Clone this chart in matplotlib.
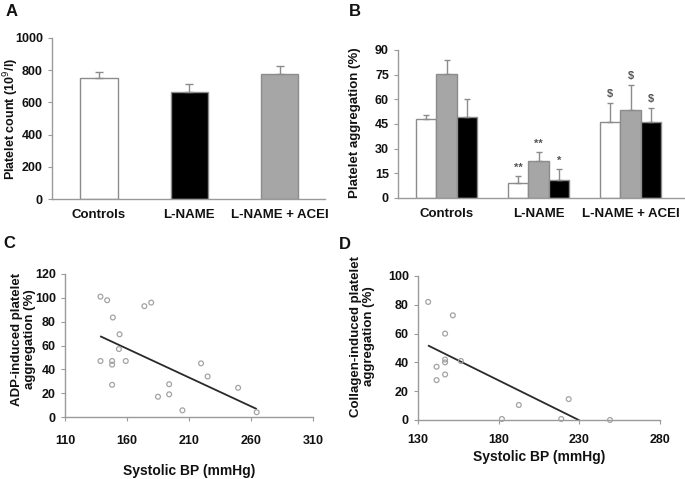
import numpy as np
import matplotlib.pyplot as plt

plt.rcParams['font.family'] = ['Liberation Sans', 'DejaVu Sans']

# Panel A: platelet count
groups = ["Controls", "L-NAME", "L-NAME + ACEI"]
count_mean = [751, 665, 776]
count_err = [38, 49, 50]

# Panel B: platelet aggregation (white, gray, black per group)
agg_white = [48, 9, 46]
agg_white_err = [2.5, 4.5, 12]
agg_gray = [75.5, 22.5, 53.5]
agg_gray_err = [8.5, 5.5, 15.5]
agg_black = [49, 11, 46]
agg_black_err = [11, 6.5, 9]
marks_white = ["", "**", "$"]
marks_gray = ["", "**", "$"]
marks_black = ["", "*", "$"]

# Panel C: ADP-induced aggregation vs systolic BP
c_bp = [138.6, 144, 148.6, 154, 153.5, 148, 148, 138.6, 159, 148, 174, 179.5,
        185, 194, 194, 204.7, 219.7, 225, 249.6, 264.6]
c_agg = [101, 98, 83.5, 69.4, 57, 47, 44, 47, 47, 27, 93, 96,
         17, 27.5, 19, 5.6, 45, 34, 24.5, 4]
c_fit_x = [139, 264]
c_fit_y = [67.5, 7]

# Panel D: collagen-induced aggregation vs systolic BP
d_bp = [136.3, 151.6, 146.8, 146.8, 146.8, 156.6, 141.5, 141.5, 146.8,
        192.5, 182, 218.8, 223.4, 249]
d_agg = [82, 72.7, 60, 42, 40, 41, 37, 27.7, 31.6, 10.4, 0.7, 0.7, 14.5, 0]
d_fit_x = [136.7, 229.6]
d_fit_y = [51.5, 0]

W, H = 685, 479
fig = plt.figure(figsize=(W / 100, H / 100), dpi=100)

AX_COL = '#9a9a9a'
TXT = '#111111'
EC = '#8c8c8c'


def px_axes(l, r, t, b):
    return fig.add_axes([l / W, 1 - b / H, (r - l) / W, (b - t) / H])


def style(ax):
    for s in ('top', 'right'):
        ax.spines[s].set_visible(False)
    for s in ('left', 'bottom'):
        ax.spines[s].set_color(AX_COL)
        ax.spines[s].set_linewidth(1.0)
    ax.tick_params(colors=AX_COL, labelcolor=TXT, labelsize=9, length=3,
                   width=0.8)
    for lbl in ax.get_xticklabels() + ax.get_yticklabels():
        lbl.set_fontweight('bold')


# ---- A ----
axA = px_axes(52, 325, 38, 199)
x = np.arange(3)
axA.bar(x, count_mean, width=0.41, color=['white', 'black', '#a6a6a6'],
        edgecolor=EC, linewidth=1.0, zorder=2)
axA.errorbar(x, count_mean, yerr=[np.zeros(3), count_err], fmt='none',
             ecolor=EC, elinewidth=1.0, capsize=3, capthick=1.0, zorder=3)
axA.set_xlim(-0.52, 2.5)
axA.set_ylim(0, 1000)
axA.set_yticks([0, 200, 400, 600, 800, 1000])
axA.set_xticks(x)
axA.set_xticklabels(groups)
style(axA)
axA.tick_params(axis='x', length=0, pad=7, labelsize=9.5)
axA.set_ylabel("Platelet count (10$^9$/l)", fontsize=9, fontweight='bold',
               color=TXT)
axA.yaxis.set_label_coords(-0.112, 0.5)

# ---- B ----
axB = px_axes(398, 684, 50, 198)
bw = 0.223
for vals, errs, col, off, marks in [
        (agg_white, agg_white_err, 'white', -bw, marks_white),
        (agg_gray, agg_gray_err, '#a6a6a6', 0, marks_gray),
        (agg_black, agg_black_err, 'black', bw, marks_black)]:
    axB.bar(x + off, vals, width=bw, color=col, edgecolor=EC, linewidth=1.0,
            zorder=2)
    axB.errorbar(x + off, vals, yerr=[np.zeros(3), errs], fmt='none',
                 ecolor=EC, elinewidth=1.0, capsize=2.5, capthick=1.0,
                 zorder=3)
    for xi, v, e, m in zip(x + off, vals, errs, marks):
        if m:
            axB.text(xi, v + e + 2, m, ha='center', va='bottom', fontsize=8,
                     fontweight='bold', color='#555555')
axB.set_xlim(-0.527, 2.58)
axB.set_ylim(0, 90)
axB.set_yticks(np.arange(0, 91, 15))
axB.set_xticks(x)
axB.set_xticklabels(groups)
style(axB)
axB.tick_params(axis='x', length=0, pad=7, labelsize=9.5)
axB.set_ylabel("Platelet aggregation (%)", fontsize=9.5, fontweight='bold',
               color=TXT)
axB.yaxis.set_label_coords(-0.13, 0.51)

# ---- C ----
axC = px_axes(65, 313, 274, 417)
axC.scatter(c_bp, c_agg, s=12, facecolors='none', edgecolors='#a3a3a3',
            linewidths=0.9, zorder=3)
axC.plot(c_fit_x, c_fit_y, color='#2a2a2a', lw=1.3, zorder=2)
axC.set_xlim(110, 310)
axC.set_ylim(0, 120)
axC.set_xticks([110, 160, 210, 260, 310])
axC.set_yticks(np.arange(0, 121, 20))
style(axC)
axC.tick_params(axis='x', pad=10)
axC.set_xlabel("Systolic BP (mmHg)", fontsize=10, fontweight='bold',
               color=TXT, labelpad=12)
axC.set_ylabel("ADP-induced platelet\naggregation (%)", fontsize=9.5,
               fontweight='bold', color=TXT, linespacing=1.1)
axC.yaxis.set_label_coords(-0.117, 0.545)

# ---- D ----
axD = px_axes(418, 660, 276, 420)
axD.scatter(d_bp, d_agg, s=12, facecolors='none', edgecolors='#a3a3a3',
            linewidths=0.9, zorder=3, clip_on=False)
axD.plot(d_fit_x, d_fit_y, color='#2a2a2a', lw=1.3, zorder=2)
axD.set_xlim(130, 280)
axD.set_ylim(0, 100)
axD.set_xticks([130, 180, 230, 280])
axD.set_yticks(np.arange(0, 101, 20))
style(axD)
axD.tick_params(axis='x', pad=7)
axD.set_xlabel("Systolic BP (mmHg)", fontsize=10, fontweight='bold',
               color=TXT, labelpad=3)
axD.set_ylabel("Collagen-induced platelet\naggregation (%)", fontsize=9.5,
               fontweight='bold', color=TXT, linespacing=1.1)
axD.yaxis.set_label_coords(-0.178, 0.58)

# panel letters
for lab, px, py in [("A", 12, 12), ("B", 355, 12), ("C", 9, 243),
                    ("D", 345, 244)]:
    fig.text(px / W, 1 - py / H, lab, fontsize=12, fontweight='bold',
             ha='center', va='center', color=TXT)

fig.savefig("out.png", dpi=100)
